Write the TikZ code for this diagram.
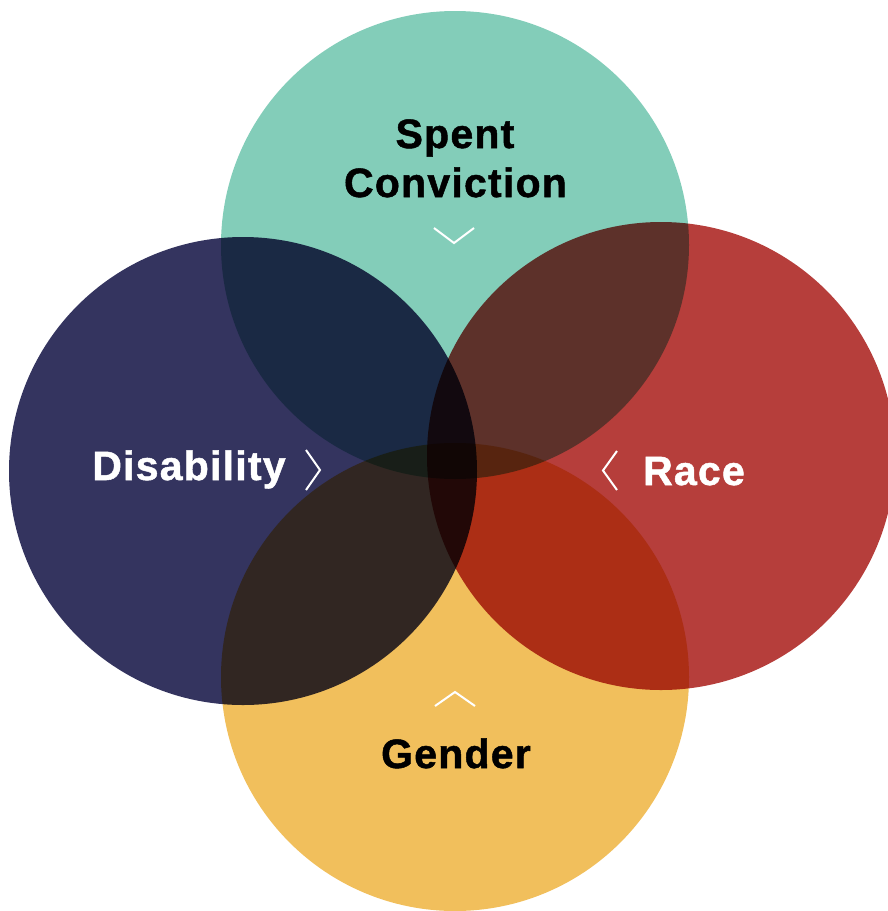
\documentclass[tikz,border=0pt]{standalone}
\usepackage{fontspec}
\setmainfont{Liberation Sans}
\definecolor{teal1}{HTML}{83CDB9}
\definecolor{navy1}{HTML}{34345F}
\definecolor{red1}{HTML}{B63E3B}
\definecolor{gold1}{HTML}{F1BF5C}
\tikzset{
  label/.style={anchor=base, inner sep=0pt, font=\fontsize{41}{48}\selectfont\bfseries\addfontfeatures{LetterSpace=3,FakeBold=1.2}},
  chev/.style={draw=white, line width=2pt}
}
\begin{document}
\begin{tikzpicture}[x=1pt, y=-1pt]
  \useasboundingbox (0,0) rectangle (888,911);
  \begin{scope}
    \clip (0,0) rectangle (888,911);
    \begin{scope}[blend group=multiply]
      \fill[teal1] (455,245) circle (234);
      \fill[navy1] (243,471) circle (234);
      \fill[red1]  (661,456) circle (234);
      \fill[gold1] (455,677) circle (234);
    \end{scope}
  \end{scope}
  % labels
  \node[label] (spent) at (455,148) {Spent};
  \node[label] (conv)  at (455.5,197) {Conviction};
  \node[label, white] (dis) at (189,480) {Disability};
  \node[label, white] (race) at (694,485) {Race};
  \node[label] (gen) at (456,768) {Gender};
  % chevrons pointing toward the centre
  \draw[chev] (434,228) -- (454,243) -- (474,228);
  \draw[chev] (306,450) -- (320,470) -- (306,490);
  \draw[chev] (617,451) -- (603,470.5) -- (617,490);
  \draw[chev] (435,706) -- (455,692) -- (475,706);
\end{tikzpicture}
\end{document}
